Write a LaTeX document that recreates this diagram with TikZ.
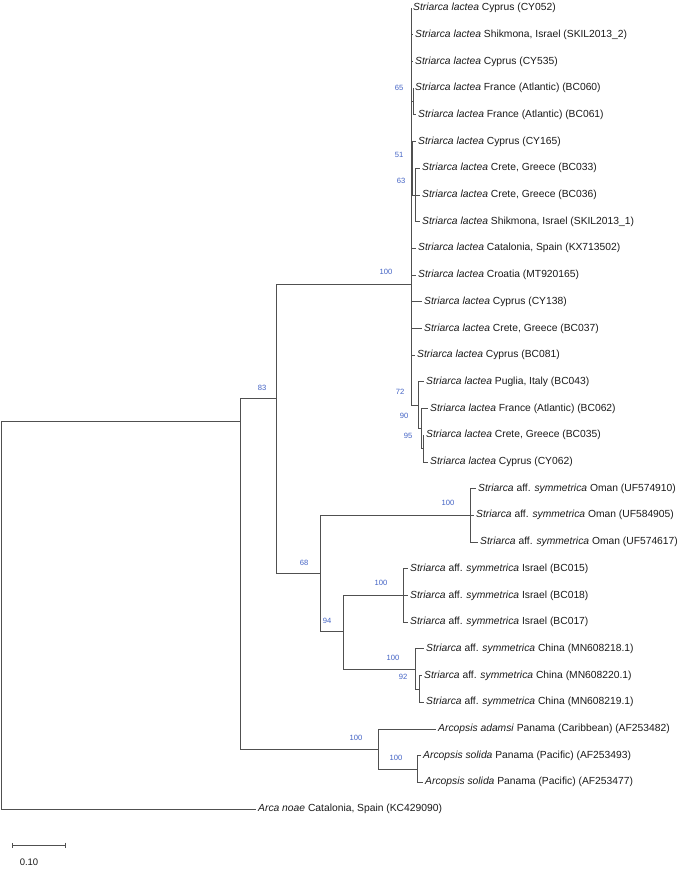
\documentclass[tikz,border=0pt]{standalone}
\usepackage{fontspec}
\setmainfont{Liberation Sans}
\usepackage{xcolor}
\usetikzlibrary{positioning, arrows.meta}
\definecolor{branchGray}{HTML}{505050}
\definecolor{bootBlue}{HTML}{4262C4}
\definecolor{tipBlack}{HTML}{1A1A1A}

\begin{document}
\begin{tikzpicture}[x=1pt, y=-1pt,
  every node/.style={font=\fontsize{10.3}{12}\selectfont},
  tip/.style={anchor=west, inner xsep=2pt, inner ysep=0pt, text=tipBlack},
  boot/.style={font=\fontsize{7.6}{9}\selectfont, text=bootBlue, inner sep=0pt},
  branch/.style={draw=branchGray, line width=0.75pt},
]
  \useasboundingbox (0,0) rectangle (690,874);

  % internal nodes
  \coordinate (nRoot) at (1,421);
  \coordinate (nIn)   at (240,421);
  \coordinate (n83)   at (276,398);
  \coordinate (nLac)  at (411,284);
  \coordinate (n65)   at (413,101.5);
  \coordinate (n51)   at (412.5,168.2);
  \coordinate (n63)   at (415,194.9);
  \coordinate (n72)   at (418,405.2);
  \coordinate (n90)   at (421,428.5);
  \coordinate (n95)   at (423,448.5);
  \coordinate (n68)   at (320,573.5);
  \coordinate (nUF)   at (470,515.3);
  \coordinate (n94)   at (343,631.7);
  \coordinate (nBC)   at (403,595.4);
  \coordinate (nMN)   at (415,668.9);
  \coordinate (n92)   at (419,688.9);
  \coordinate (nArc)  at (378,748.9);
  \coordinate (nSol)  at (417,769);

  % tips
  \node[tip] (t1)  at (411,8.0)   {\textit{Striarca lactea} Cyprus (CY052)};
  \node[tip] (t2)  at (413,34.7)  {\textit{Striarca lactea} Shikmona, Israel (SKIL2013\_2)};
  \node[tip] (t3)  at (413,61.4)  {\textit{Striarca lactea} Cyprus (CY535)};
  \node[tip] (t4)  at (413,88.1)  {\textit{Striarca lactea} France (Atlantic) (BC060)};
  \node[tip] (t5)  at (416,114.8) {\textit{Striarca lactea} France (Atlantic) (BC061)};
  \node[tip] (t6)  at (416,141.5) {\textit{Striarca lactea} Cyprus (CY165)};
  \node[tip] (t7)  at (420,168.2) {\textit{Striarca lactea} Crete, Greece (BC033)};
  \node[tip] (t8)  at (420,194.9) {\textit{Striarca lactea} Crete, Greece (BC036)};
  \node[tip] (t9)  at (420,221.6) {\textit{Striarca lactea} Shikmona, Israel (SKIL2013\_1)};
  \node[tip] (t10) at (416,248.3) {\textit{Striarca lactea} Catalonia, Spain (KX713502)};
  \node[tip] (t11) at (416,275.0) {\textit{Striarca lactea} Croatia (MT920165)};
  \node[tip] (t12) at (422,301.7) {\textit{Striarca lactea} Cyprus (CY138)};
  \node[tip] (t13) at (422,328.4) {\textit{Striarca lactea} Crete, Greece (BC037)};
  \node[tip] (t14) at (415,355.1) {\textit{Striarca lactea} Cyprus (BC081)};
  \node[tip] (t15) at (424,381.8) {\textit{Striarca lactea} Puglia, Italy (BC043)};
  \node[tip] (t16) at (428,408.5) {\textit{Striarca lactea} France (Atlantic) (BC062)};
  \node[tip] (t17) at (424,435.2) {\textit{Striarca lactea} Crete, Greece (BC035)};
  \node[tip] (t18) at (428,461.9) {\textit{Striarca lactea} Cyprus (CY062)};
  \node[tip] (t19) at (476,488.6) {\textit{Striarca} aff. \textit{symmetrica} Oman (UF574910)};
  \node[tip] (t20) at (474,515.3) {\textit{Striarca} aff. \textit{symmetrica} Oman (UF584905)};
  \node[tip] (t21) at (478,542.0) {\textit{Striarca} aff. \textit{symmetrica} Oman (UF574617)};
  \node[tip] (t22) at (408,568.7) {\textit{Striarca} aff. \textit{symmetrica} Israel (BC015)};
  \node[tip] (t23) at (408,595.4) {\textit{Striarca} aff. \textit{symmetrica} Israel (BC018)};
  \node[tip] (t24) at (408,622.1) {\textit{Striarca} aff. \textit{symmetrica} Israel (BC017)};
  \node[tip] (t25) at (424,648.8) {\textit{Striarca} aff. \textit{symmetrica} China (MN608218.1)};
  \node[tip] (t26) at (422,675.5) {\textit{Striarca} aff. \textit{symmetrica} China (MN608220.1)};
  \node[tip] (t27) at (424,702.2) {\textit{Striarca} aff. \textit{symmetrica} China (MN608219.1)};
  \node[tip] (t28) at (436,728.9) {\textit{Arcopsis adamsi} Panama (Caribbean) (AF253482)};
  \node[tip] (t29) at (421,755.6) {\textit{Arcopsis solida} Panama (Pacific) (AF253493)};
  \node[tip] (t30) at (423,782.3) {\textit{Arcopsis solida} Panama (Pacific) (AF253477)};
  \node[tip] (t31) at (256,809.0) {\textit{Arca noae} Catalonia, Spain (KC429090)};

  % branches
  \draw[branch] (nRoot) -- (nIn) (nRoot) |- (t31.west);
  \draw[branch] (nIn) |- (n83) (nIn) |- (nArc);
  \draw[branch] (n83) |- (nLac) (n83) |- (n68);
  \foreach \c in {t1,t2,t3,n65,n51,t10,t11,t12,t13,t14,n72}
    \draw[branch] (nLac) |- (\c.west);
  \draw[branch] (n65) |- (t4.west) (n65) |- (t5.west);
  \draw[branch] (n51) |- (t6.west) (n51) |- (n63);
  \foreach \c in {t7,t8,t9}
    \draw[branch] (n63) |- (\c.west);
  \draw[branch] (n72) |- (t15.west) (n72) |- (n90);
  \draw[branch] (n90) |- (t16.west) (n90) |- (n95);
  \draw[branch] (n95) |- (t17.west) (n95) |- (t18.west);
  \draw[branch] (n68) |- (nUF) (n68) |- (n94);
  \foreach \c in {t19,t20,t21}
    \draw[branch] (nUF) |- (\c.west);
  \draw[branch] (n94) |- (nBC) (n94) |- (nMN);
  \foreach \c in {t22,t23,t24}
    \draw[branch] (nBC) |- (\c.west);
  \draw[branch] (nMN) |- (t25.west) (nMN) |- (n92);
  \draw[branch] (n92) |- (t26.west) (n92) |- (t27.west);
  \draw[branch] (nArc) |- (t28.west) (nArc) |- (nSol);
  \draw[branch] (nSol) |- (t29.west) (nSol) |- (t30.west);

  % bootstrap values
  \node[boot] (b65)   at (399,88)  {65};
  \node[boot] (b51)   at (399,155) {51};
  \node[boot] (b63)   at (401,181) {63};
  \node[boot] (bLac)  at (386,272) {100};
  \node[boot] (b72)   at (400,392) {72};
  \node[boot] (b90)   at (404,416) {90};
  \node[boot] (b95)   at (408,436) {95};
  \node[boot] (b83)   at (262,388) {83};
  \node[boot] (bUF)   at (448,503) {100};
  \node[boot] (b68)   at (304,563) {68};
  \node[boot] (bBC)   at (381,583) {100};
  \node[boot] (b94)   at (327,621) {94};
  \node[boot] (bMN)   at (393,658) {100};
  \node[boot] (b92)   at (403,677) {92};
  \node[boot] (bArc)  at (356,738) {100};
  \node[boot] (bSol)  at (396,758) {100};

  % scale bar
  \coordinate (sbL) at (12,845);
  \coordinate (sbR) at (66,845);
  \draw[branch, {Bar[width=5pt]}-{Bar[width=5pt]}] (sbL) -- (sbR);
  \node[font=\fontsize{9.5}{11}\selectfont, text=tipBlack] (sbT) at (29,862) {0.10};
\end{tikzpicture}
\end{document}
